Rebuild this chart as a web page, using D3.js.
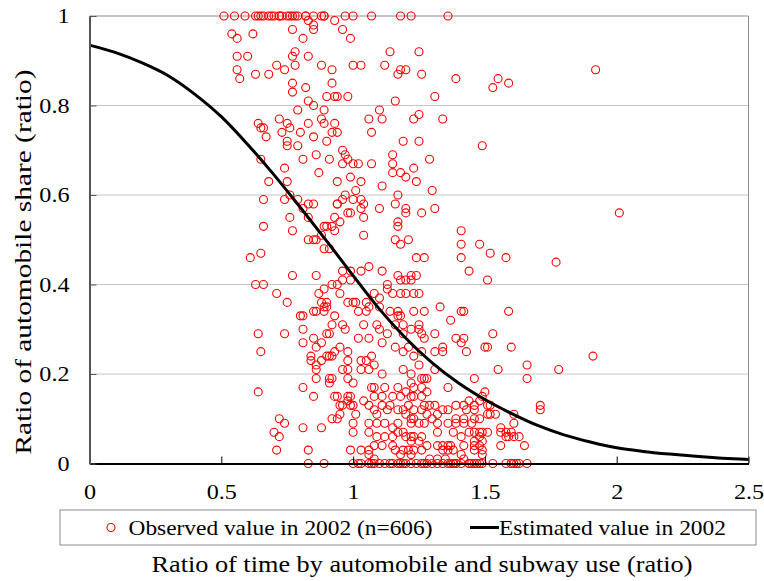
<!DOCTYPE html>
<html>
<head>
<meta charset="utf-8">
<script src="https://cdn.jsdelivr.net/npm/d3@7"></script>
<style>
  body { margin: 0; background: #fff; }
  svg { display: block; font-family: "Liberation Serif", "Times New Roman", serif; }
  .grid line { stroke-width: 1; }
</style>
</head>
<body>
<div id="chart"></div>
<script>
/* ── data ── */
const xTicks = [0, 0.5, 1, 1.5, 2, 2.5];
const yTicks = [0, 0.2, 0.4, 0.6, 0.8, 1];

// observed points sitting on share = 1
const obsTopX = [0.51, 0.55, 0.59, 0.63, 0.64, 0.65, 0.66, 0.68, 0.69, 0.70, 0.72, 0.72, 0.73, 0.75, 0.76,
                 0.77, 0.78, 0.79, 0.82, 0.82, 0.85, 0.88, 0.89, 0.89, 0.97, 1.00, 1.07, 1.18, 1.22, 1.36];

// observed points sitting on share = 0
const obsZeroX = [0.83, 0.89, 1.00, 1.02, 1.03, 1.06, 1.07, 1.08, 1.10, 1.12, 1.14, 1.15, 1.17, 1.18, 1.19,
                  1.20, 1.22, 1.24, 1.26, 1.27, 1.28, 1.30, 1.32, 1.34, 1.36, 1.37, 1.38, 1.38, 1.39, 1.39,
                  1.41, 1.44, 1.44, 1.45, 1.46, 1.47, 1.48, 1.49, 1.53, 1.58, 1.60, 1.60, 1.61, 1.62, 1.63, 1.66];

// remaining observed points [time ratio, automobile share]
const obsPoints = [
  [0.54,0.96],[0.56,0.95],[0.62,0.96],[0.77,0.97],[0.83,0.99],[0.85,0.98],[0.85,0.97],[0.93,0.99],[0.96,0.97],
  [0.99,0.95],[0.81,0.95],[0.56,0.91],[0.60,0.91],[0.56,0.88],[0.57,0.86],[0.63,0.87],[0.68,0.87],[0.71,0.89],
  [0.74,0.88],[0.77,0.91],[0.78,0.92],[0.78,0.89],[0.83,0.91],[0.88,0.89],[0.92,0.88],[1.00,0.89],[1.03,0.89],
  [1.14,0.92],[1.12,0.89],[1.17,0.87],[1.18,0.88],[1.20,0.88],[0.77,0.85],[0.77,0.83],[0.82,0.84],[0.92,0.85],
  [0.90,0.82],[0.93,0.82],[0.94,0.82],[0.98,0.82],[0.83,0.81],[0.85,0.80],[0.79,0.79],[0.89,0.79],[1.16,0.81],
  [1.10,0.79],[1.11,0.77],[1.06,0.77],[0.64,0.76],[0.66,0.75],[0.65,0.75],[0.72,0.77],[0.75,0.76],[0.76,0.75],
  [0.73,0.74],[0.67,0.73],[0.80,0.74],[0.83,0.76],[0.88,0.77],[0.89,0.76],[0.93,0.76],[0.92,0.74],[0.94,0.74],
  [0.85,0.73],[0.75,0.72],[0.75,0.71],[0.79,0.71],[0.90,0.72],[1.07,0.74],[1.19,0.72],[0.81,0.68],[0.86,0.69],
  [0.91,0.68],[0.96,0.70],[0.97,0.69],[0.98,0.68],[1.15,0.69],
  [1.25,0.92],[1.26,0.87],[1.39,0.86],[1.55,0.86],[1.53,0.84],[1.59,0.85],[1.31,0.82],[1.92,0.88],[1.25,0.78],
  [1.23,0.77],[1.34,0.77],[1.25,0.72],[1.49,0.71],[1.29,0.68],
  [0.65,0.68],[0.74,0.66],[0.75,0.63],[0.68,0.63],[0.66,0.59],[0.74,0.59],[0.76,0.60],[0.79,0.59],[0.81,0.57],
  [0.83,0.58],[0.85,0.58],[0.76,0.55],[0.83,0.55],[0.66,0.53],[0.77,0.52],[0.83,0.50],[0.85,0.50],[0.86,0.50],
  [0.88,0.51],[0.89,0.53],[0.90,0.53],[0.92,0.53],[0.93,0.52],[0.93,0.55],[0.95,0.54],[0.89,0.48],[0.91,0.48],
  [0.61,0.46],[0.65,0.47],[0.77,0.42],[0.86,0.42],[0.63,0.40],[0.66,0.40],[0.71,0.38],[0.75,0.36],[0.87,0.65],
  [0.94,0.63],[0.96,0.67],[1.00,0.67],[1.02,0.67],[0.99,0.64],[1.03,0.63],[1.07,0.67],[0.97,0.60],[0.96,0.59],
  [0.94,0.58],[0.94,0.58],[1.01,0.61],[1.00,0.59],[1.03,0.59],[1.04,0.58],[1.03,0.57],[0.98,0.56],[0.99,0.56],
  [1.04,0.55],[1.04,0.51],[1.10,0.57],[1.11,0.62],[1.15,0.67],[1.15,0.65],[1.18,0.65],[1.17,0.60],[1.16,0.58],
  [1.20,0.57],[1.20,0.56],[1.17,0.54],[1.17,0.53],[1.16,0.50],[1.18,0.49],[1.21,0.50],[0.96,0.43],[0.99,0.43],
  [0.96,0.41],[0.99,0.41],[1.03,0.43],[1.06,0.44],[1.11,0.43],[1.17,0.42],[1.18,0.41],[1.22,0.42],[0.92,0.40],
  [0.94,0.40],[0.89,0.39],[0.87,0.38],[0.95,0.38],[0.98,0.36],[1.00,0.36],[1.05,0.36],[1.08,0.38],[1.10,0.37],
  [1.13,0.40],[1.13,0.39],[1.15,0.38],[1.18,0.38],[1.20,0.38],[0.90,0.36],[0.89,0.35],[0.85,0.34],
  [1.23,0.66],[1.20,0.64],[1.24,0.63],[1.30,0.61],[1.26,0.56],[1.31,0.57],[2.01,0.56],[1.41,0.52],[1.41,0.49],
  [1.48,0.49],[1.52,0.47],[1.24,0.46],[1.27,0.46],[1.41,0.46],[1.58,0.46],[1.77,0.45],[1.44,0.43],[1.51,0.41],
  [1.24,0.42],[1.22,0.41],[1.20,0.41],[1.23,0.38],[1.25,0.38],[1.33,0.35],[1.41,0.34],[1.42,0.34],[1.59,0.34],
  [1.23,0.34],[1.27,0.34],
  [0.80,0.33],[0.81,0.33],[0.64,0.29],[0.74,0.29],[0.81,0.30],[0.81,0.27],[0.85,0.28],[0.65,0.25],[0.84,0.24],
  [0.84,0.23],[0.86,0.21],[0.86,0.19],[0.64,0.16],[0.81,0.17],[0.85,0.15],[0.72,0.10],[0.74,0.09],[0.70,0.07],
  [0.72,0.06],[0.81,0.08],[0.71,0.03],[0.83,0.03],
  [0.88,0.36],[0.90,0.35],[0.89,0.34],[0.86,0.34],[1.01,0.36],[1.06,0.35],[1.10,0.35],[1.02,0.34],[1.05,0.34],
  [1.14,0.34],[1.17,0.34],[1.17,0.33],[1.18,0.33],[0.93,0.33],[0.92,0.31],[0.96,0.31],[0.97,0.30],[0.91,0.29],
  [0.90,0.29],[1.04,0.31],[1.09,0.31],[1.10,0.30],[1.13,0.29],[1.16,0.31],[1.19,0.31],[1.22,0.30],[1.19,0.29],
  [1.25,0.31],[1.02,0.28],[1.06,0.28],[1.11,0.27],[0.88,0.27],[0.95,0.26],[0.93,0.25],[0.98,0.25],[0.86,0.26],
  [1.16,0.26],[1.21,0.26],[1.19,0.25],[1.23,0.24],[1.26,0.25],[0.90,0.24],[0.91,0.24],[0.92,0.24],[0.88,0.23],
  [0.86,0.22],[0.98,0.23],[1.03,0.23],[1.05,0.23],[1.07,0.24],[1.08,0.22],[0.96,0.21],[0.98,0.21],[1.03,0.21],
  [1.06,0.21],[1.11,0.20],[0.92,0.19],[0.91,0.19],[0.91,0.18],[0.98,0.19],[1.00,0.18],[1.19,0.21],[1.22,0.20],
  [1.26,0.19],[1.22,0.18],[1.07,0.17],[1.08,0.17],[1.12,0.17],[1.17,0.17],[1.23,0.17],[1.26,0.17],[0.93,0.15],
  [0.94,0.15],[0.98,0.15],[0.99,0.15],[0.98,0.14],[0.96,0.13],[0.99,0.13],[1.04,0.14],[1.08,0.15],[1.11,0.15],
  [1.15,0.15],[1.18,0.15],[1.20,0.16],[1.22,0.15],[1.23,0.15],[1.26,0.15],[0.95,0.13],[1.00,0.13],[1.01,0.11],
  [1.06,0.13],[1.08,0.12],[1.09,0.11],[1.11,0.13],[1.13,0.12],[1.14,0.13],[1.17,0.12],[1.19,0.12],[1.21,0.13],
  [1.23,0.12],[1.26,0.12],[0.92,0.10],[0.94,0.10],[0.95,0.11],[1.00,0.09],[1.06,0.09],[1.09,0.09],[1.12,0.09],
  [1.15,0.08],[1.20,0.11],[1.22,0.10],[1.23,0.10],[1.22,0.09],[1.17,0.09],[1.19,0.07],[0.88,0.08],[1.00,0.07],
  [1.06,0.07],[1.09,0.06],[1.12,0.06],[1.15,0.06],[1.17,0.07],[1.20,0.06],[1.22,0.06],[1.23,0.06],[1.26,0.06],
  [1.22,0.05],[1.25,0.05],[0.99,0.03],[1.03,0.03],[1.06,0.03],[1.08,0.04],[1.11,0.04],[1.15,0.04],[1.16,0.03],
  [1.19,0.03],[1.21,0.03],[1.23,0.03],[1.26,0.03],[1.06,0.02],[1.08,0.01],[1.18,0.02],[1.22,0.02],
  [1.37,0.32],[1.25,0.30],[1.26,0.29],[1.27,0.28],[1.31,0.29],[1.39,0.28],[1.41,0.27],[1.42,0.28],[1.43,0.25],
  [1.34,0.26],[1.34,0.25],[1.31,0.25],[1.50,0.26],[1.51,0.26],[1.53,0.29],[1.60,0.26],[1.25,0.22],[1.31,0.21],
  [1.55,0.21],[1.66,0.22],[1.66,0.19],[1.27,0.19],[1.28,0.19],[1.46,0.19],[1.28,0.16],[1.36,0.17],[1.27,0.13],
  [1.29,0.13],[1.31,0.13],[1.44,0.14],[1.46,0.13],[1.48,0.14],[1.50,0.16],[1.49,0.15],[1.51,0.13],[1.52,0.13],
  [1.34,0.12],[1.32,0.11],[1.36,0.12],[1.39,0.13],[1.42,0.13],[1.43,0.12],[1.46,0.12],[1.30,0.10],[1.28,0.11],
  [1.52,0.11],[1.54,0.11],[1.48,0.10],[1.51,0.11],[1.39,0.10],[1.42,0.10],[1.46,0.10],[1.42,0.09],[1.25,0.09],
  [1.27,0.09],[1.32,0.09],[1.36,0.09],[1.39,0.09],[1.56,0.08],[1.56,0.07],[1.58,0.07],[1.59,0.06],[1.61,0.09],
  [1.60,0.07],[1.32,0.07],[1.38,0.07],[1.41,0.06],[1.44,0.07],[1.46,0.07],[1.48,0.07],[1.51,0.07],[1.28,0.04],
  [1.32,0.04],[1.34,0.04],[1.36,0.04],[1.37,0.04],[1.42,0.04],[1.46,0.04],[1.48,0.04],[1.49,0.05],[1.56,0.04],
  [1.63,0.06],[1.65,0.04],[1.34,0.03],[1.36,0.03],[1.38,0.03],[1.41,0.02],[1.46,0.03],[1.49,0.02],[1.49,0.03],
  [1.29,0.01],[1.32,0.01],[1.35,0.01],[1.42,0.01],
  [1.78,0.21],[1.91,0.24],[1.71,0.13],[1.71,0.12],[1.61,0.11],[1.58,0.06],[1.61,0.06],[1.45,0.09],[1.49,0.07],
  [1.48,0.06],[1.46,0.05]
];

// estimated curve, read at steps of 0.1
const estX = [0, 0.1, 0.2, 0.3, 0.4, 0.5, 0.6, 0.7, 0.8, 0.9, 1.0, 1.1, 1.2,
              1.3, 1.4, 1.5, 1.6, 1.7, 1.8, 1.9, 2.0, 2.1, 2.2, 2.3, 2.4, 2.5];
const estY = [0.935, 0.918, 0.895, 0.866, 0.825, 0.775, 0.713, 0.645, 0.572, 0.497, 0.420, 0.345, 0.280,
              0.225, 0.180, 0.143, 0.112, 0.085, 0.064, 0.048, 0.035, 0.027, 0.021, 0.016, 0.012, 0.009];

const legendLabels = ['Observed value in 2002 (n=606)', 'Estimated value in 2002'];
const xTitle = 'Ratio of time by automobile and subway use (ratio)';
const yTitle = 'Ratio of automobile share (ratio)';

/* ── layout ── */
const W = 764, H = 581;
const M = { left: 89.5, right: 15.5, top: 16, bottom: 117.5 };
const iw = W - M.left - M.right;
const ih = H - M.top - M.bottom;
const SERIF = '"Liberation Serif", "Times New Roman", serif';
const STRETCH = 1.15;   // reference glyphs are a bit wider than Liberation Serif

const x = d3.scaleLinear().domain([0, 2.5]).range([0, iw]);
const y = d3.scaleLinear().domain([0, 1]).range([ih, 0]);

const svg = d3.select('#chart').append('svg')
    .attr('width', W).attr('height', H);

const g = svg.append('g').attr('transform', `translate(${M.left},${M.top})`);

/* gridlines */
g.append('g').attr('class', 'grid')
  .selectAll('line').data(yTicks.filter(d => d > 0))
  .join('line')
    .attr('x1', 0).attr('x2', iw)
    .attr('y1', d => y(d)).attr('y2', d => y(d))
    .attr('stroke', d => d === 1 ? '#8c8c8c' : '#c4c4c4');

/* right border */
g.append('line')
  .attr('x1', iw).attr('x2', iw).attr('y1', 0).attr('y2', ih)
  .attr('stroke', '#8c8c8c');

/* observed points */
const obs = [
  ...obsTopX.map(v => [v, 1]),
  ...obsZeroX.map(v => [v, 0]),
  ...obsPoints
];
g.append('g')
  .selectAll('circle').data(obs)
  .join('circle')
    .attr('cx', d => x(d[0]))
    .attr('cy', d => y(d[1]))
    .attr('r', 4)
    .attr('fill', 'none')
    .attr('stroke', '#ff0000')
    .attr('stroke-width', 1.1);

/* estimated curve */
const est = estX.map((v, i) => [v, estY[i]]);
g.append('path')
  .datum(est)
  .attr('fill', 'none')
  .attr('stroke', '#000')
  .attr('stroke-width', 3)
  .attr('d', d3.line().x(d => x(d[0])).y(d => y(d[1])).curve(d3.curveMonotoneX));

/* axes: ticks point inward */
function styleAxis(sel, colour) {
  sel.attr('font-family', SERIF).attr('font-size', 21);
  sel.select('.domain').attr('stroke', colour).attr('stroke-width', 2);
  sel.selectAll('.tick line').attr('stroke', colour);
  sel.selectAll('.tick text').attr('fill', '#000')
    .each(function() {
      const w = this.getComputedTextLength();
      d3.select(this).attr('textLength', w * STRETCH).attr('lengthAdjust', 'spacingAndGlyphs');
    });
}

const xAxis = g.append('g')
  .attr('transform', `translate(0,${ih})`)
  .call(d3.axisBottom(x).tickValues(xTicks).tickFormat(d3.format('')).tickSize(-7).tickSizeOuter(0).tickPadding(21));
styleAxis(xAxis, '#000');

const yAxis = g.append('g')
  .call(d3.axisLeft(y).tickValues(yTicks).tickFormat(d3.format('')).tickSize(-7).tickSizeOuter(0).tickPadding(20));
styleAxis(yAxis, '#555');

/* axis titles */
svg.append('text')
  .attr('x', 422).attr('y', 572)
  .attr('text-anchor', 'middle')
  .style('font-size', '23px')
  .attr('textLength', 541).attr('lengthAdjust', 'spacingAndGlyphs')
  .text(xTitle);

svg.append('text')
  .attr('transform', 'translate(31,262) rotate(-90)')
  .attr('text-anchor', 'middle')
  .style('font-size', '23px')
  .attr('textLength', 385).attr('lengthAdjust', 'spacingAndGlyphs')
  .text(yTitle);

/* legend */
const lg = svg.append('g').attr('transform', 'translate(60,510)');
lg.append('rect')
  .attr('width', 696).attr('height', 35)
  .attr('fill', '#fff').attr('stroke', '#8c8c8c');
lg.append('circle')
  .attr('cx', 51).attr('cy', 17.5).attr('r', 4)
  .attr('fill', 'none').attr('stroke', '#ff0000').attr('stroke-width', 1.1);
lg.append('text')
  .attr('x', 68.5).attr('y', 25)
  .style('font-size', '21px')
  .attr('textLength', 304).attr('lengthAdjust', 'spacingAndGlyphs')
  .text(legendLabels[0]);
lg.append('line')
  .attr('x1', 410).attr('x2', 439).attr('y1', 17.5).attr('y2', 17.5)
  .attr('stroke', '#000').attr('stroke-width', 3);
lg.append('text')
  .attr('x', 439).attr('y', 25)
  .style('font-size', '21px')
  .attr('textLength', 227).attr('lengthAdjust', 'spacingAndGlyphs')
  .text(legendLabels[1]);
</script>
</body>
</html>
